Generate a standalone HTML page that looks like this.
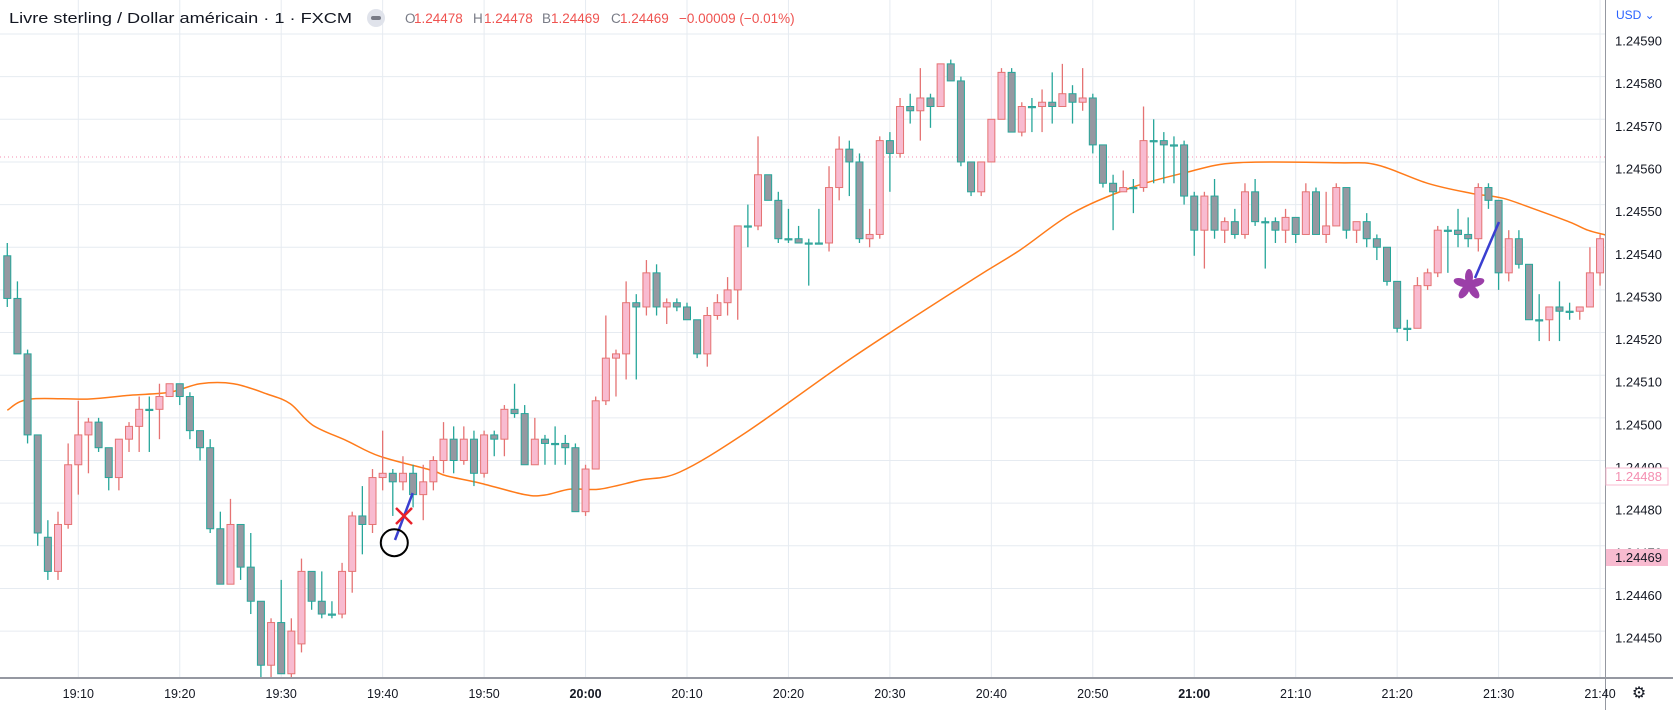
<!DOCTYPE html>
<html><head><meta charset="utf-8"><style>
html,body{margin:0;padding:0;background:#fff;}
svg{display:block;font-family:"Liberation Sans",sans-serif;}
</style></head><body>
<svg id="chart" width="1673" height="710" viewBox="0 0 1673 710">
<rect x="0" y="0" width="1673" height="710" fill="#ffffff"/>
<g id="grid"></g>
<line x1="0" y1="157" x2="1605" y2="157" stroke="#f48fb1" stroke-width="1" stroke-dasharray="1,3"/>
<g id="ma"></g>
<g id="candles"></g>
<g>
<line x1="412.7" y1="493" x2="395" y2="540" stroke="#3a3fd0" stroke-width="2.5"/>
<g stroke="#e8202a" stroke-width="2.5"><line x1="396" y1="508" x2="412" y2="524"/><line x1="412" y1="508" x2="396" y2="524"/></g>
<circle cx="394.3" cy="542.7" r="13.5" fill="none" stroke="#000" stroke-width="2"/>
<line x1="1475" y1="278" x2="1499" y2="222" stroke="#3a3fd0" stroke-width="2.5"/>
<g fill="#9b3fa8" transform="translate(1469,285)">
<ellipse cx="0" cy="-8" rx="4" ry="8"/><ellipse cx="0" cy="-8" rx="4" ry="8" transform="rotate(72)"/><ellipse cx="0" cy="-8" rx="4" ry="8" transform="rotate(144)"/><ellipse cx="0" cy="-8" rx="4" ry="8" transform="rotate(216)"/><ellipse cx="0" cy="-8" rx="4" ry="8" transform="rotate(288)"/></g>
</g>
<rect x="1606" y="0" width="67" height="710" fill="#fff"/>
<rect x="0" y="679" width="1673" height="31" fill="#fff"/>
<line x1="1605.5" y1="0" x2="1605.5" y2="710" stroke="#9598a1" stroke-width="1"/>
<line x1="0" y1="678" x2="1673" y2="678" stroke="#9598a1" stroke-width="2"/>
<g id="yaxis"></g>
<g id="xaxis"></g>
<text x="1616" y="19" font-size="12" fill="#2962ff">USD ⌄</text>
<g><rect x="1606" y="468" width="62" height="17" fill="#fff" stroke="#f8bbd0"/><text x="1615" y="481" font-size="13" fill="#f48fb1">1.24488</text></g>
<g><rect x="1606" y="549" width="62" height="17" fill="#f8bbd0"/><text x="1615" y="562" font-size="13" fill="#131722">1.24469</text></g>
<text x="1639" y="698" font-size="16" fill="#131722" text-anchor="middle">⚙</text>
<g>
<text x="9" y="23" font-size="15" fill="#131722" textLength="343" lengthAdjust="spacingAndGlyphs">Livre sterling / Dollar américain · 1 · FXCM</text>
<g><circle cx="376" cy="18" r="9" fill="#e0e3eb"/><rect x="371" y="16" width="10" height="4" rx="2" fill="#787b86"/></g>
<text y="23" font-size="13.5"><tspan x="405" fill="#787b86">O</tspan><tspan x="414" fill="#ef5350">1.24478</tspan><tspan x="473" fill="#787b86">H</tspan><tspan x="484" fill="#ef5350">1.24478</tspan><tspan x="542" fill="#787b86">B</tspan><tspan x="551" fill="#ef5350">1.24469</tspan><tspan x="611" fill="#787b86">C</tspan><tspan x="620" fill="#ef5350">1.24469</tspan><tspan x="679" fill="#ef5350">−0.00009 (−0.01%)</tspan></text>
</g>
</svg>
<script>
const opens  = [538,528,515,496,472,464,475,489,496,499,493,486,495,498,502,502,505,508,505,497,493,474,461,475,465,457,442,452,440,447,464,457,454,454,464,477,475,486,487,485,487,482,485,490,495,490,495,487,496,495,502,501,489,495,494,494,493,478,488,504,514,515,527,526,534,526,527,526,523,515,524,527,530,545,545,557,551,542,542,541,541,541,554,563,560,542,543,565,562,573,572,575,573,583,579,560,553,560,570,581,567,573,573,574,573,576,574,575,564,555,553,554,554,565,565,564,564,552,544,552,544,546,543,553,546,546,544,547,543,553,543,545,554,544,546,542,540,532,521,521,531,534,544,544,543,542,554,551,534,542,536,523,523,526,525,525,526,534];
const closes = [528,515,496,473,464,475,489,496,499,493,486,495,498,502,502,505,508,505,497,493,474,461,475,465,457,442,452,440,450,464,457,454,454,464,477,475,486,487,485,487,482,485,490,495,490,495,487,496,495,502,501,489,495,494,494,493,478,488,504,514,515,527,526,534,526,527,526,523,515,524,527,530,545,545,557,551,542,542,541,541,541,554,563,560,542,543,565,562,573,572,575,573,583,579,560,553,560,570,581,567,573,573,574,573,576,574,575,564,555,553,554,554,565,565,564,564,552,544,552,544,546,543,553,546,546,544,547,543,553,543,545,554,544,546,542,540,532,521,521,531,534,544,544,543,542,554,551,534,542,536,523,523,526,525,525,526,534,542];
const highs  = [541,532,516,496,476,478,494,504,500,500,493,495,499,505,505,508,508,508,506,497,495,478,481,475,473,457,453,462,453,467,464,464,457,466,478,484,488,497,488,491,489,489,491,499,498,498,497,497,497,503,508,503,500,496,498,496,494,489,505,524,516,532,529,537,536,528,528,527,523,526,529,533,545,550,566,557,553,549,545,542,549,559,566,565,562,549,566,567,575,576,582,576,583,584,580,560,560,570,582,582,574,575,577,581,583,578,582,576,564,557,558,556,573,570,567,566,565,553,553,556,547,549,555,556,547,547,549,547,555,554,553,555,554,546,548,543,540,532,523,533,535,545,545,549,547,555,555,551,544,544,536,529,526,532,527,526,540,543];
const lows   = [526,515,494,470,462,462,474,482,487,492,483,483,492,492,492,495,505,503,495,490,473,461,461,462,454,437,438,440,438,445,455,453,453,453,459,468,473,483,477,483,479,476,483,487,487,489,484,486,491,491,500,489,489,489,489,489,478,477,488,503,505,509,509,524,524,522,525,523,514,512,523,524,523,540,544,551,541,541,541,531,541,539,551,552,541,540,542,553,561,569,565,568,573,579,559,552,552,560,570,567,566,567,567,569,573,569,572,562,554,544,553,548,553,555,555,555,550,538,535,542,541,542,542,545,535,541,541,541,543,543,541,545,542,541,540,537,531,520,518,521,530,533,534,540,540,539,549,530,532,535,523,518,518,518,523,523,526,531];
const maMinutes = [0,2.2,7.9,12.1,16,19,22.3,25.6,27.9,30.1,33.5,36.7,41.7,43.3,46.6,51,53,55.5,58.4,62.4,66.3,72.9,83.4,95.2,99.8,105,110.7,116.3,121.2,131.1,135,140,144.2,147.4,150.8,154,155.8,157.5];
const maValues  = [501.8,504.4,504.4,505.3,506,508,508,505.6,503.3,498.3,494.6,491,487.8,486.4,484.7,482,481.9,483.3,483.3,485.4,487.3,496.7,514.3,532.5,539.3,548,553.9,557.6,559.8,559.8,559.3,555,552.7,551.5,548.7,545.9,544,542.9];
const priceTicks = [590,580,570,560,550,540,530,520,510,500,490,480,470,460,450];
const timeTicks = ["19:10","19:20","19:30","19:40","19:50","20:00","20:10","20:20","20:30","20:40","20:50","21:00","21:10","21:20","21:30","21:40"];
const BASE = 124000;
const NS = "http://www.w3.org/2000/svg";
function yOf(v){ return 34 + (124590 - (BASE + v)) * 4.265; }
function xOf(i){ return 78.3 + (i - 7) * 10.145; }
function mk(tag, attrs, parent){ const e=document.createElementNS(NS,tag); for(const k in attrs) e.setAttribute(k,attrs[k]); parent.appendChild(e); return e; }
const grid=document.getElementById('grid'), yaxis=document.getElementById('yaxis'), xaxis=document.getElementById('xaxis');
priceTicks.forEach(function(v){
  const y=yOf(v);
  const l=mk('line',{x1:0,x2:1605,y1:y,y2:y,stroke:'#e6ebf1','stroke-width':1},grid);
  
  
  const t=mk('text',{x:1615,y:y+11.5,'font-size':13,fill:'#131722'},yaxis);
  t.textContent=((BASE+v)/100000).toFixed(5);
  
  
});
timeTicks.forEach(function(s,k){
  const x=xOf(7+10*k);
  const l=mk('line',{x1:x,x2:x,y1:0,y2:678,stroke:'#e6ebf1','stroke-width':1},grid);
  
  
  const bold=(s==="20:00"||s==="21:00");
  const t=mk('text',{x:x,y:698,'font-size':12.5,fill:'#131722','text-anchor':'middle','font-weight':bold?'bold':'normal'},xaxis);
  t.textContent=s;
  
  
});
const pts=maMinutes.map(function(m,k){ return [xOf(m), yOf(maValues[k])]; });
let d='M'+pts[0][0].toFixed(1)+' '+pts[0][1].toFixed(1);
for(let k=0;k<pts.length-1;k++){
  const p0=pts[Math.max(k-1,0)], p1=pts[k], p2=pts[k+1], p3=pts[Math.min(k+2,pts.length-1)];
  const c1x=p1[0]+(p2[0]-p0[0])/6, c1y=p1[1]+(p2[1]-p0[1])/6;
  const c2x=p2[0]-(p3[0]-p1[0])/6, c2y=p2[1]-(p3[1]-p1[1])/6;
  d+=' C'+c1x.toFixed(1)+' '+c1y.toFixed(1)+' '+c2x.toFixed(1)+' '+c2y.toFixed(1)+' '+p2[0].toFixed(1)+' '+p2[1].toFixed(1);
}
const maPath=mk('path',{d:d,fill:'none',stroke:'#ff7b1a','stroke-width':1.5,'stroke-linejoin':'round'},document.getElementById('ma'));


const cg=document.getElementById('candles');
opens.forEach(function(o,i){
  const c=closes[i], up=c>o;
  const x=xOf(i);
  const stroke=up?'#e57373':'#26a69a', fill=up?'#f8bbd0':'#9598a1';
  const g=mk('g',{},cg);
  
  
  mk('line',{x1:x,x2:x,y1:yOf(highs[i]),y2:yOf(lows[i]),stroke:stroke,'stroke-width':1.3},g);
  const top=yOf(Math.max(o,c)), bot=yOf(Math.min(o,c));
  mk('rect',{x:x-3.5,y:top,width:7,height:Math.max(bot-top,1.2),fill:fill,stroke:stroke,'stroke-width':1},g);
});
</script>
</body></html>
